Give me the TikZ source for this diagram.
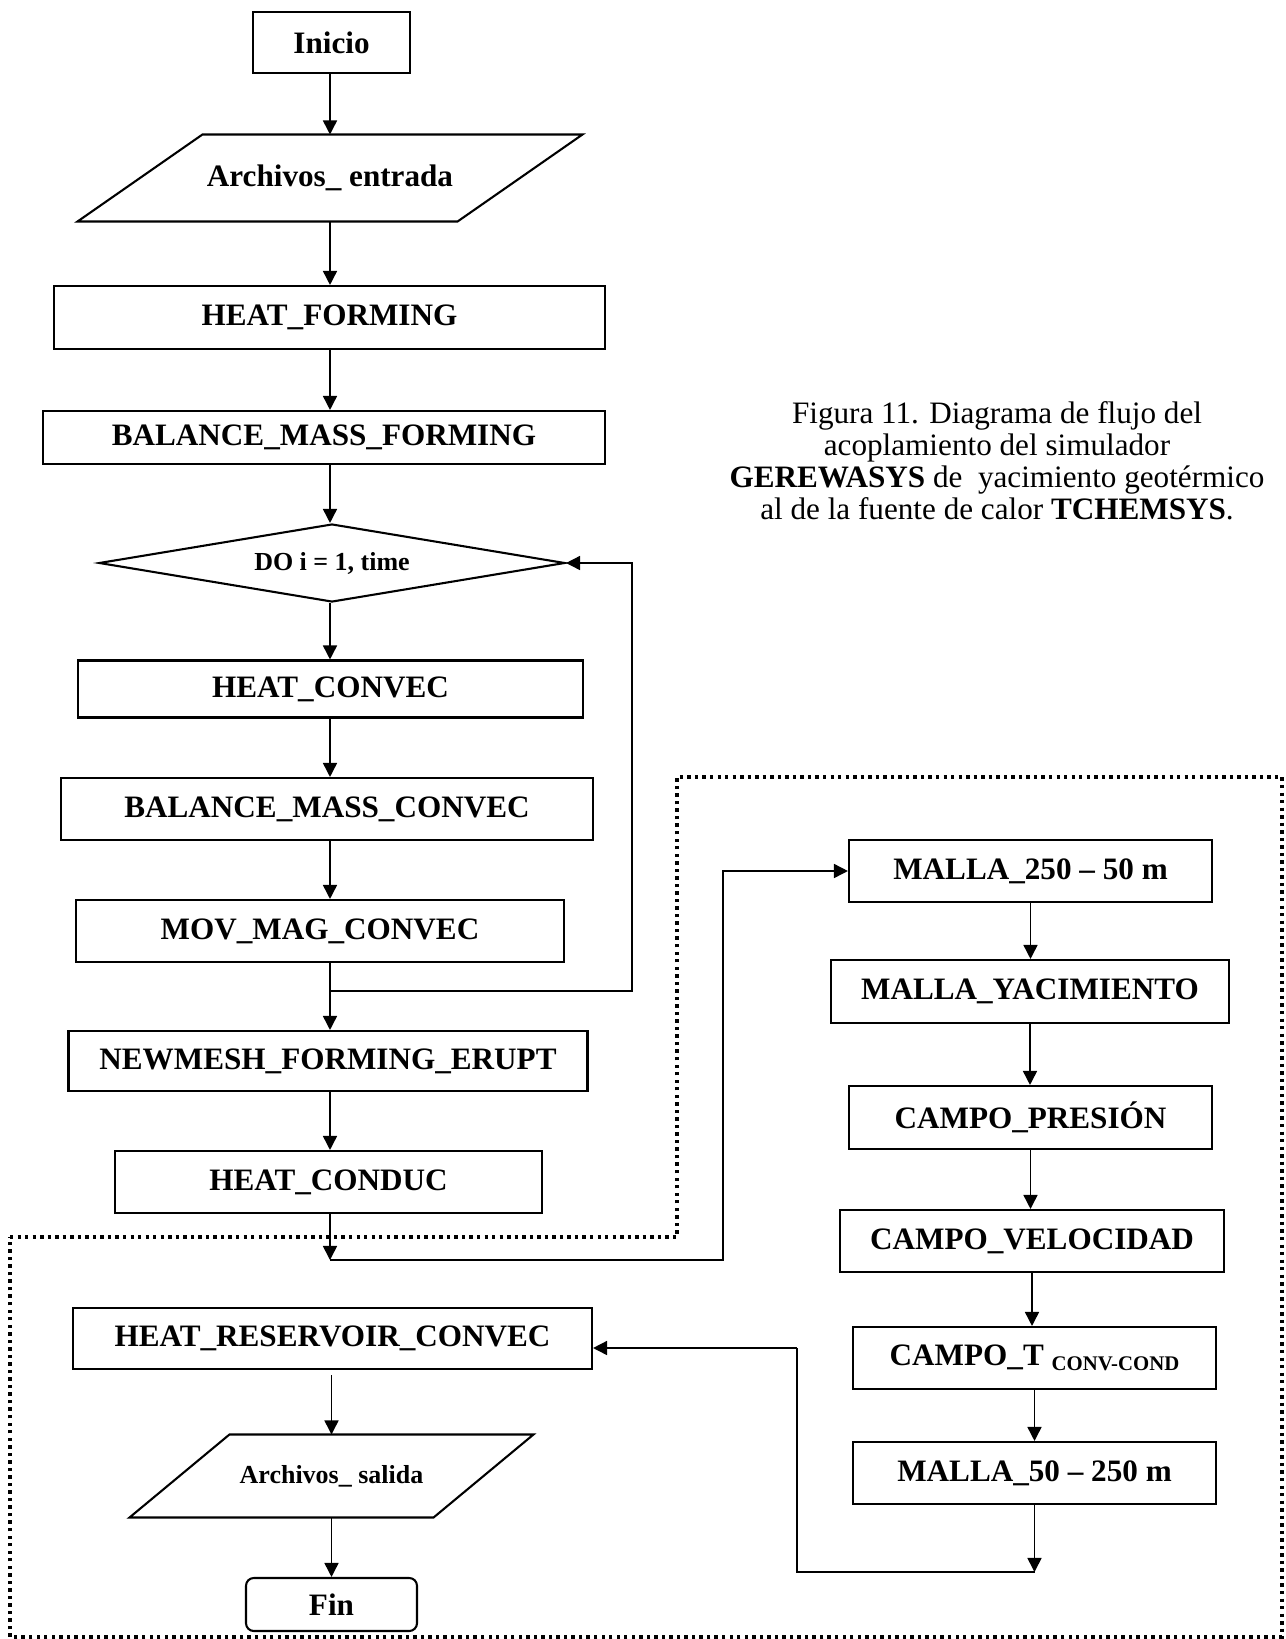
\documentclass[tikz,border=0pt]{standalone}
\usepackage{fontspec}
\setmainfont{Liberation Serif}
\usetikzlibrary{shapes.geometric,arrows.meta}
\newcommand{\pxu}{0.385pt}

\begin{document}
\begin{tikzpicture}[x=0.385pt,y=-0.385pt,
    pbox/.style 2 args={draw,line width=0.8pt,inner sep=0pt,
        minimum width=#1*\pxu,minimum height=#2*\pxu,
        font=\fontsize{12}{14}\selectfont\bfseries},
    iobox/.style 2 args={inner sep=0pt,
        minimum width=#1*\pxu,minimum height=#2*\pxu,
        font=\fontsize{12}{14}\selectfont\bfseries},
    arr/.style={-{Triangle[length=5.4pt,width=5.4pt]},line width=0.6pt},
    plain/.style={line width=0.6pt},
    frame/.style={line width=1.3pt,dash pattern=on 1.3pt off 1.6pt}]
    \useasboundingbox (0,0) rectangle (1286,1639);

    % left column
    \node[pbox={157}{61}] (inicio) at (331.5,42.5) {Inicio};
    \node[iobox={504}{86}] (entrada) at (330,178) {Archivos\_ entrada};
    \node[pbox={551}{63}] (heatform) at (329.5,317.5) {HEAT\_FORMING};
    \node[pbox={562}{53}] (balform) at (324,437.5) {BALANCE\_MASS\_FORMING};
    \node[draw,diamond,line width=0.8pt,inner sep=0pt,aspect=6,
          minimum width=466*\pxu,minimum height=78*\pxu,
          font=\fontsize{10}{12}\selectfont\bfseries] (doloop) at (332,563) {DO i = 1, time};
    \node[pbox={505}{57}] (heatconv) at (330.5,689) {HEAT\_CONVEC};
    \node[pbox={532}{62}] (balconv) at (327,809) {BALANCE\_MASS\_CONVEC};
    \node[pbox={488}{62}] (movmag) at (320,931) {MOV\_MAG\_CONVEC};
    \node[pbox={519}{60}] (newmesh) at (328,1061) {NEWMESH\_FORMING\_ERUPT\hspace{8.8pt}};
    \node[pbox={427}{62}] (heatcond) at (328.5,1182) {HEAT\_CONDUC};
    \node[pbox={519}{61}] (heatres) at (332.5,1338.5) {HEAT\_RESERVOIR\_CONVEC};
    \node[iobox={403}{82},font=\fontsize{10}{12}\selectfont\bfseries] (salida) at (331.5,1476) {Archivos\_ salida};
    \node[pbox={171}{53},rounded corners=3pt] (fin) at (331.5,1604.5) {Fin};

    % the two slanted in/out boxes
    \foreach \n/\s in {entrada/125, salida/100}
        \draw[line width=0.8pt] ([xshift=\s*\pxu]\n.north west) -- (\n.north east)
            -- ([xshift=-\s*\pxu]\n.south east) -- (\n.south west) -- cycle;

    % right column
    \node[pbox={363}{62}] (mallaA) at (1030.5,871) {MALLA\_250 -- 50 m};
    \node[pbox={398}{63}] (mallayac) at (1030,991.5) {MALLA\_YACIMIENTO};
    \node[pbox={363}{63}] (cpres) at (1030.5,1117.5) {CAMPO\_PRESIÓN};
    \node[pbox={384}{62}] (cvel) at (1032,1241) {CAMPO\_VELOCIDAD};
    \node[pbox={363}{62}] (ctemp) at (1034.5,1358)
        {CAMPO\_T \raisebox{-2pt}{\fontsize{8}{9}\selectfont CONV-COND}};
    \node[pbox={363}{62}] (mallaB) at (1034.5,1473) {MALLA\_50 -- 250 m};

    \node[align=center,anchor=north,inner sep=0pt,font=\fontsize{12}{12.3}\selectfont]
        (caption) at (997,401.5)
        {Figura 11. Diagrama de flujo del\\ acoplamiento del simulador\\
         \textbf{GEREWASYS} de\ \ yacimiento geotérmico\\
         al de la fuente de calor \textbf{TCHEMSYS}.};

    % connectors
    \coordinate (spine) at (330,0);
    \foreach \a/\b in {inicio/entrada, entrada/heatform, heatform/balform, balform/doloop,
                       doloop/heatconv, heatconv/balconv, balconv/movmag, movmag/newmesh,
                       newmesh/heatcond}
        \draw[arr] (\a.south -| spine) -- (\b.north -| spine);

    \coordinate (loopR) at (632,991);
    \draw[arr] (loopR -| spine) -- (loopR) -- (loopR |- doloop.east) -- (doloop.east);

    \coordinate (jA) at (330,1260);
    \coordinate (jB) at (723,1260);
    \draw[arr] (heatcond.south -| spine) -- (jA);
    \draw[arr] (jA) -- (jB) -- (jB |- mallaA.west) -- (mallaA.west);

    \foreach \a/\b in {mallaA/mallayac, mallayac/cpres, cpres/cvel, cvel/ctemp, ctemp/mallaB}
        \draw[arr] (\a.south) -- (\a.south |- \b.north);

    \coordinate (jC) at (797,1572);
    \coordinate (jD) at (797,1348);
    \draw[arr] (mallaB.south) -- (mallaB.south |- jC);
    \draw[plain] (mallaB.south |- jC) -- (jC) -- (jD);
    \draw[arr] (jD) -- (jD -| heatres.east);
    \draw[arr,shorten <=2pt] (heatres.south -| salida.north) -- (salida.north);
    \draw[arr] (salida.south) -- (fin.north);

    %\draw[loosely dotted] (0,0) grid (1286,1639);
    \draw[frame] (10,1237) -- (677,1237) -- (677,777) -- (1282,777) -- (1282,1637) -- (10,1637) -- cycle;
\end{tikzpicture}
\end{document}
